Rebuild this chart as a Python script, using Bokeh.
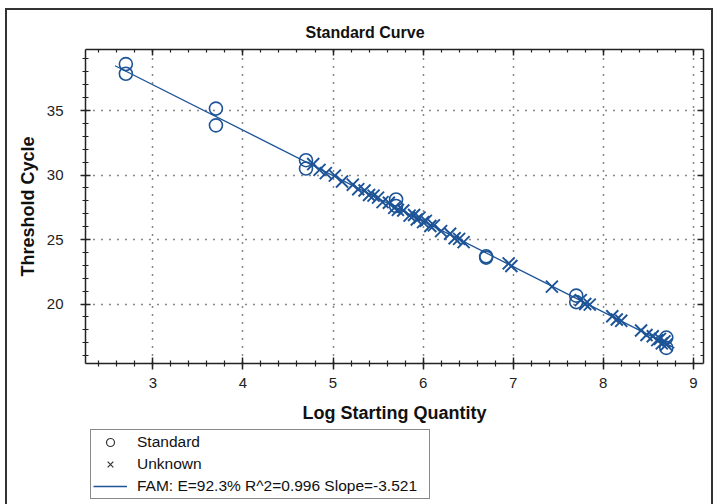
from bokeh.plotting import figure
from bokeh.layouts import column
from bokeh.models import (Range1d, LinearAxis, SingleIntervalTicker, Legend,
                          LegendItem, CustomJSTickFormatter)
from bokeh.embed import file_html
from bokeh.resources import INLINE

# ---- data ----
std_x = [2.7, 2.7, 3.7, 3.7, 4.7, 4.7, 5.7, 5.7, 6.7, 6.7, 7.7, 7.7, 8.7, 8.7]
std_y = [38.6, 37.85, 35.15, 33.85, 31.15, 30.5, 28.1, 27.6, 23.7, 23.6,
         20.65, 20.15, 17.4, 16.6]

unk_x = [4.78, 4.85, 4.92, 5.02, 5.10, 5.22, 5.28, 5.35, 5.40, 5.45, 5.50,
         5.55, 5.62, 5.68, 5.72, 5.78, 5.85, 5.90, 5.93, 5.96, 6.00, 6.03,
         6.08, 6.12, 6.20, 6.30, 6.35, 6.40, 6.45, 6.95, 6.98, 7.43, 7.75,
         7.80, 7.85, 8.10, 8.15, 8.20, 8.42, 8.48, 8.55, 8.60, 8.63, 8.65,
         8.68, 8.70]
unk_y = [30.85, 30.40, 30.15, 29.95, 29.50, 29.25, 28.90, 28.80, 28.45, 28.40,
         28.25, 27.90, 27.85, 27.45, 27.30, 27.25, 26.85, 26.90, 26.55, 26.70,
         26.35, 26.45, 26.05, 26.10, 25.65, 25.45, 25.10, 25.05, 24.80, 23.15,
         22.95, 21.35, 20.30, 20.00, 19.95, 19.05, 18.80, 18.70, 17.95, 17.60,
         17.50, 17.20, 17.30, 16.95, 17.10, 16.85]

fit_x = [2.58, 8.79]
fit_y = [38.47, 16.60]

title_text = "Standard Curve"
x_label = "Log Starting Quantity"
y_label = "Threshold Cycle"
legend_labels = ["Standard", "Unknown", "FAM: E=92.3% R^2=0.996 Slope=-3.521"]

BLUE = "#1d5497"
FONT = "Liberation Sans"

# main chart canvas: screen x 7..711, y 10..428
p = figure(width=704, height=418, output_backend="svg", toolbar_location=None,
           x_range=Range1d(2.252, 9.113), y_range=Range1d(15.39, 39.73),
           min_border_left=78, min_border_right=8, min_border_top=39,
           min_border_bottom=65, background_fill_color="white",
           border_fill_color="white")
p.outline_line_color = None

# title
p.title.text = title_text
p.title.align = "left"
p.title.offset = 220
p.title.standoff = 17
p.title.text_font = FONT
p.title.text_font_style = "bold"
p.title.text_font_size = "16px"
p.title.text_color = "#111"

xt = SingleIntervalTicker(interval=1, num_minor_ticks=5)
yt = SingleIntervalTicker(interval=5, num_minor_ticks=5)

def style_axis(ax, ticker, tin, tout, min_in, min_out, labels=True):
    ax.ticker = ticker
    ax.axis_line_color = "#222"
    ax.axis_line_width = 1.5
    ax.major_tick_line_color = "#222"
    ax.major_tick_line_width = 1.5
    ax.minor_tick_line_color = "#222"
    ax.minor_tick_line_width = 1.2
    ax.major_tick_in = tin
    ax.major_tick_out = tout
    ax.minor_tick_in = min_in
    ax.minor_tick_out = min_out
    if labels:
        ax.major_label_text_font = FONT
        ax.major_label_text_font_size = "15px"
        ax.major_label_text_color = "#222"
        ax.axis_label_text_font = FONT
        ax.axis_label_text_font_style = "bold"
        ax.axis_label_text_font_size = "18px"
        ax.axis_label_text_color = "#111"
    else:
        ax.formatter = CustomJSTickFormatter(code="return ''")
        ax.major_label_standoff = 0

bx = p.xaxis[0]
style_axis(bx, xt, 6, 6, 3, 3)
bx.axis_label = x_label
bx.major_label_standoff = 8
bx.axis_label_standoff = 12

ly = p.yaxis[0]
style_axis(ly, yt, 5, 5, 3, 3)
ly.axis_label = y_label
ly.major_label_standoff = 17
ly.axis_label_standoff = 6

top_ax = LinearAxis()
style_axis(top_ax, SingleIntervalTicker(interval=1, num_minor_ticks=5), 6, 0, 3, 0, labels=False)
p.add_layout(top_ax, "above")
right_ax = LinearAxis()
style_axis(right_ax, SingleIntervalTicker(interval=5, num_minor_ticks=5), 6, 0, 3, 0, labels=False)
p.add_layout(right_ax, "right")

for g in (p.xgrid[0], p.ygrid[0]):
    g.grid_line_color = "#111"
    g.grid_line_dash = "1 7"
    g.grid_line_width = 1.5

r_line = p.line(fit_x, fit_y, line_color=BLUE, line_width=1.3)
r_std = p.scatter(std_x, std_y, marker="circle", size=13, fill_color=None,
                  line_color=BLUE, line_width=1.6)
r_unk = p.scatter(unk_x, unk_y, marker="x", size=17, line_color=BLUE,
                  line_width=1.9)

# legend strip: screen y 428..504 (its frame is aligned with the chart frame)
# the same data are drawn here, far outside this strip's ranges, only to
# provide legend glyphs
q = figure(width=704, height=76, output_backend="svg", toolbar_location=None,
           x_range=Range1d(0, 1), y_range=Range1d(0, 1),
           x_axis_location=None, y_axis_location=None,
           min_border=0, background_fill_color="white",
           border_fill_color="white")
q.outline_line_color = None
q.grid.visible = False
k_std = q.scatter(std_x, std_y, marker="circle", size=11, fill_color=None,
                  line_color="#333", line_width=1.2)
k_unk = q.scatter(unk_x, unk_y, marker="x", size=14, line_color="#333",
                  line_width=1.2)
k_line = q.line(fit_x, fit_y, line_color=BLUE, line_width=1.3)

legend = Legend(items=[LegendItem(label=legend_labels[0], renderers=[k_std]),
                       LegendItem(label=legend_labels[1], renderers=[k_unk]),
                       LegendItem(label=legend_labels[2], renderers=[k_line])],
                location=(5, 5), border_line_color="#111",
                border_line_width=1, padding=2, spacing=2, glyph_width=34,
                glyph_height=20, label_standoff=10, label_width=290, margin=0,
                label_text_font=FONT, label_text_font_size="15.5px",
                label_text_color="#111", background_fill_alpha=1)
q.add_layout(legend, "center")

page = column(p, q, spacing=0,
              styles={"margin-left": "5px", "margin-top": "8px",
                      "border": "2px solid #333"})

open("out.html", "w").write(file_html(page, INLINE))
